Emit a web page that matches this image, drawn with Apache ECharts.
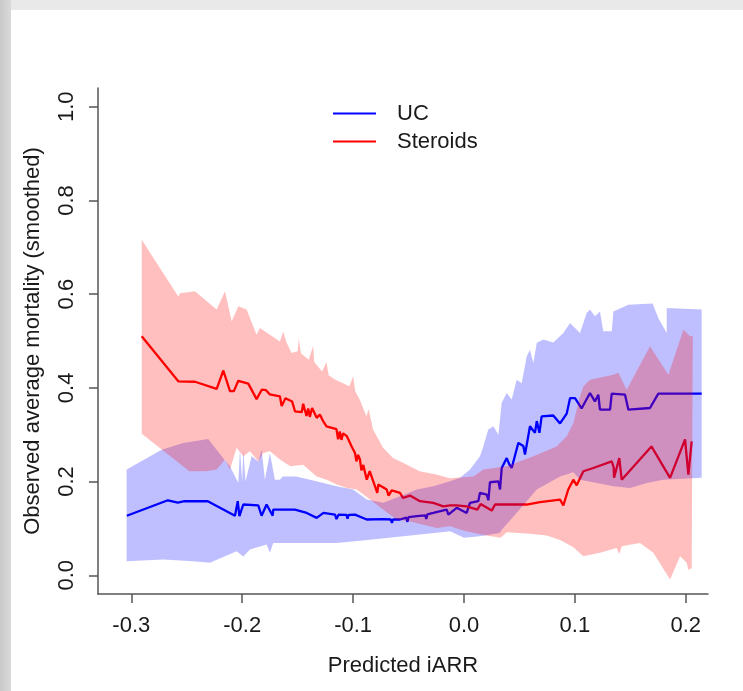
<!DOCTYPE html>
<html>
<head>
<meta charset="utf-8">
<script src="https://cdn.jsdelivr.net/npm/echarts@6/dist/echarts.min.js"></script>
<style>
  html, body { margin: 0; padding: 0; }
  body { width: 743px; height: 691px; position: relative; overflow: hidden; background: #e9e9e9; }
  #edgeLeft { position: absolute; left: 0; top: 0; width: 11px; height: 691px;
    background: linear-gradient(to right, #c9c9c9, #dadada); }
  #panel { position: absolute; left: 11px; top: 10px; width: 732px; height: 681px; background: #fff; }
  #chart { position: absolute; left: 0; top: 0; width: 743px; height: 691px; }
</style>
</head>
<body>
<div id="edgeLeft"></div>
<div id="panel"></div>
<div id="chart"></div>
<script>
// tick labels
const xTicks = [-0.3, -0.2, -0.1, 0.0, 0.1, 0.2];
const yTicks = [0.0, 0.2, 0.4, 0.6, 0.8, 1.0];

// smoothed mortality lines, [predicted iARR, mortality]
const ucLine = [
  [-0.304, 0.127], [-0.267, 0.160], [-0.258, 0.155], [-0.252, 0.158], [-0.231, 0.158],
  [-0.2065, 0.127], [-0.204, 0.158], [-0.2025, 0.126], [-0.199, 0.151], [-0.1855, 0.149],
  [-0.1825, 0.127], [-0.178, 0.151], [-0.1725, 0.127], [-0.172, 0.140], [-0.1524, 0.140],
  [-0.1418, 0.133], [-0.1328, 0.1225], [-0.1268, 0.133], [-0.1163, 0.1295], [-0.115, 0.120],
  [-0.113, 0.1295], [-0.106, 0.129], [-0.105, 0.121], [-0.104, 0.129], [-0.0983, 0.1295],
  [-0.0877, 0.119], [-0.0727, 0.120], [-0.066, 0.119], [-0.065, 0.112], [-0.064, 0.119],
  [-0.0577, 0.119], [-0.052, 0.123], [-0.051, 0.114], [-0.050, 0.124], [-0.0426, 0.126],
  [-0.035, 0.128], [-0.034, 0.120], [-0.033, 0.130], [-0.0277, 0.133], [-0.0156, 0.140],
  [-0.0141, 0.1295], [-0.0066, 0.144], [0.0024, 0.133], [0.0054, 0.1545], [0.0129, 0.158],
  [0.0144, 0.176], [0.0205, 0.172], [0.022, 0.160], [0.0234, 0.1985], [0.031, 0.2006],
  [0.0325, 0.183], [0.034, 0.229], [0.0385, 0.250], [0.041, 0.236], [0.043, 0.229],
  [0.049, 0.2825], [0.0535, 0.276], [0.055, 0.2575], [0.0595, 0.318], [0.064, 0.304],
  [0.0656, 0.329], [0.068, 0.304], [0.070, 0.339], [0.0805, 0.341], [0.0866, 0.324],
  [0.0926, 0.345], [0.0956, 0.378], [0.1001, 0.378], [0.106, 0.356], [0.1136, 0.389],
  [0.118, 0.371], [0.1211, 0.3855], [0.1226, 0.3535], [0.1317, 0.3535], [0.1332, 0.3877],
  [0.1452, 0.3855], [0.1482, 0.3535], [0.1677, 0.357], [0.1752, 0.3877], [0.2143, 0.3877]
];
const steroidLine = [
  [-0.2906, 0.510], [-0.2576, 0.414], [-0.2426, 0.413], [-0.223, 0.398], [-0.217, 0.437],
  [-0.211, 0.393], [-0.2075, 0.393], [-0.2035, 0.415], [-0.1945, 0.409], [-0.187, 0.376],
  [-0.1824, 0.396], [-0.1785, 0.395], [-0.175, 0.386], [-0.166, 0.382], [-0.1644, 0.361],
  [-0.161, 0.378], [-0.155, 0.371], [-0.1524, 0.350], [-0.1463, 0.348], [-0.145, 0.366],
  [-0.142, 0.340], [-0.1405, 0.356], [-0.139, 0.338], [-0.137, 0.357], [-0.1328, 0.336],
  [-0.130, 0.343], [-0.127, 0.329], [-0.124, 0.318], [-0.115, 0.312], [-0.1135, 0.290],
  [-0.112, 0.307], [-0.1105, 0.289], [-0.109, 0.303], [-0.1057, 0.297], [-0.1013, 0.275],
  [-0.0983, 0.261], [-0.097, 0.243], [-0.0955, 0.257], [-0.0938, 0.247], [-0.0925, 0.224],
  [-0.0908, 0.2355], [-0.0877, 0.204], [-0.085, 0.222], [-0.0818, 0.2006], [-0.0782, 0.176],
  [-0.0773, 0.1935], [-0.0697, 0.183], [-0.068, 0.170], [-0.0652, 0.181], [-0.0577, 0.176],
  [-0.055, 0.165], [-0.0487, 0.170], [-0.0397, 0.158], [-0.0277, 0.1545], [-0.0187, 0.147],
  [-0.0126, 0.149], [-0.0066, 0.149], [0.0024, 0.147], [0.012, 0.140], [0.015, 0.152],
  [0.025, 0.138], [0.028, 0.151], [0.0385, 0.151], [0.0565, 0.151], [0.0685, 0.156],
  [0.0866, 0.1615], [0.0896, 0.149], [0.094, 0.183], [0.0986, 0.204], [0.1016, 0.192],
  [0.1076, 0.222], [0.1166, 0.229], [0.1332, 0.243], [0.135, 0.230], [0.1353, 0.208],
  [0.140, 0.250], [0.1422, 0.204], [0.169, 0.275], [0.1858, 0.208], [0.1993, 0.290],
  [0.2023, 0.215], [0.2053, 0.286]
];

// confidence bands, upper and lower edges
const ucUpper = [
  [-0.3042, 0.2255], [-0.2726, 0.268], [-0.2531, 0.2825], [-0.2306, 0.291], [-0.2185, 0.254],
  [-0.211, 0.2326], [-0.2035, 0.197], [-0.202, 0.268], [-0.2, 0.200], [-0.199, 0.268],
  [-0.197, 0.200], [-0.1915, 0.254], [-0.1855, 0.243], [-0.1825, 0.268], [-0.1795, 0.204],
  [-0.175, 0.261], [-0.1705, 0.204], [-0.166, 0.204], [-0.1634, 0.211], [-0.1514, 0.211],
  [-0.1388, 0.204], [-0.1268, 0.197], [-0.1148, 0.190], [-0.100, 0.183], [-0.0877, 0.1615],
  [-0.0727, 0.1545], [-0.0577, 0.1685], [-0.0426, 0.183], [-0.0277, 0.190], [-0.0126, 0.2006],
  [-0.0036, 0.208], [0.0054, 0.2255], [0.0144, 0.254], [0.0174, 0.275], [0.0219, 0.311],
  [0.0265, 0.318], [0.031, 0.300], [0.034, 0.368], [0.0385, 0.389], [0.043, 0.375],
  [0.0475, 0.4175], [0.052, 0.410], [0.0565, 0.467], [0.0595, 0.4815], [0.0625, 0.453],
  [0.0656, 0.496], [0.0716, 0.503], [0.0805, 0.497], [0.0896, 0.517], [0.0956, 0.5385],
  [0.1046, 0.517], [0.1106, 0.560], [0.1136, 0.567], [0.118, 0.5526], [0.1226, 0.563],
  [0.1256, 0.5206], [0.1332, 0.5206], [0.1347, 0.563], [0.1482, 0.5775], [0.170, 0.580],
  [0.1752, 0.549], [0.1828, 0.517], [0.1828, 0.5705], [0.2143, 0.567]
];
const ucLower = [
  [-0.3042, 0.030], [-0.2711, 0.0335], [-0.2441, 0.030], [-0.2291, 0.0265], [-0.205, 0.051],
  [-0.199, 0.040], [-0.193, 0.055], [-0.178, 0.0655], [-0.175, 0.048], [-0.172, 0.069],
  [-0.1524, 0.069], [-0.1148, 0.069], [-0.0847, 0.076], [-0.0547, 0.083], [-0.0246, 0.0905],
  [-0.0126, 0.094], [0.000, 0.080], [0.0144, 0.083], [0.032, 0.090], [0.035, 0.100],
  [0.050, 0.140], [0.0656, 0.183], [0.0866, 0.211], [0.0986, 0.220], [0.1046, 0.204],
  [0.1196, 0.197], [0.1347, 0.190], [0.1497, 0.186], [0.1647, 0.197], [0.1797, 0.204],
  [0.2143, 0.208]
];
const steroidUpper = [
  [-0.2906, 0.716], [-0.2576, 0.595], [-0.256, 0.602], [-0.2426, 0.606], [-0.223, 0.567],
  [-0.2155, 0.606], [-0.2095, 0.542], [-0.2035, 0.574], [-0.196, 0.567], [-0.187, 0.5135],
  [-0.184, 0.528], [-0.166, 0.499], [-0.163, 0.520], [-0.160, 0.497], [-0.1555, 0.4745],
  [-0.150, 0.478], [-0.149, 0.505], [-0.147, 0.474], [-0.140, 0.460], [-0.136, 0.490],
  [-0.135, 0.455], [-0.128, 0.435], [-0.124, 0.455], [-0.122, 0.427], [-0.116, 0.4175],
  [-0.1033, 0.4033], [-0.100, 0.425], [-0.098, 0.392], [-0.094, 0.375], [-0.088, 0.339],
  [-0.086, 0.355], [-0.082, 0.311], [-0.073, 0.272], [-0.064, 0.2505], [-0.055, 0.240],
  [-0.040, 0.222], [-0.025, 0.215], [-0.0126, 0.207], [-0.0066, 0.208], [0.0084, 0.211],
  [0.0174, 0.2255], [0.0385, 0.2326], [0.0625, 0.254], [0.0835, 0.275], [0.0926, 0.2966],
  [0.0986, 0.325], [0.1046, 0.382], [0.1076, 0.403], [0.1136, 0.4175], [0.1347, 0.428],
  [0.1392, 0.432], [0.1467, 0.396], [0.1677, 0.4886], [0.1843, 0.428], [0.1978, 0.524],
  [0.2038, 0.510], [0.2063, 0.510]
];
const steroidLower = [
  [-0.2906, 0.302], [-0.2476, 0.222], [-0.2326, 0.222], [-0.223, 0.2255], [-0.2155, 0.247],
  [-0.211, 0.2255], [-0.205, 0.272], [-0.199, 0.254], [-0.193, 0.2646], [-0.1855, 0.243],
  [-0.181, 0.261], [-0.175, 0.2646], [-0.166, 0.247], [-0.1566, 0.2326], [-0.145, 0.236],
  [-0.1328, 0.211], [-0.1238, 0.204], [-0.1148, 0.1935], [-0.1057, 0.1865], [-0.0967, 0.183],
  [-0.0847, 0.1615], [-0.0727, 0.140], [-0.0607, 0.119], [-0.0487, 0.115], [-0.0367, 0.108],
  [-0.0246, 0.101], [-0.0126, 0.1045], [0.000, 0.095], [0.020, 0.085], [0.033, 0.080],
  [0.0385, 0.092], [0.0565, 0.089], [0.0745, 0.085], [0.0866, 0.075], [0.0986, 0.060],
  [0.1076, 0.0405], [0.1226, 0.048], [0.1376, 0.058], [0.140, 0.045], [0.1422, 0.062],
  [0.1587, 0.069], [0.1707, 0.048], [0.1858, -0.009], [0.1948, 0.0405], [0.2008, 0.0265],
  [0.2023, 0.012], [0.2053, 0.015]
];

const FONT = '"Liberation Sans", Arial, sans-serif';
const chart = echarts.init(document.getElementById('chart'), null, { renderer: 'canvas' });

function bandSeries(name, upper, lower, color) {
  const pts = upper.concat(lower.slice().reverse());
  return {
    name: name,
    type: 'custom',
    coordinateSystem: 'cartesian2d',
    z: 3,
    silent: true,
    data: [[pts[0][0], pts[0][1]]],
    renderItem: function (params, api) {
      return {
        type: 'polygon',
        shape: { points: pts.map(p => api.coord(p)) },
        style: { fill: color }
      };
    }
  };
}

const option = {
  animation: false,
  backgroundColor: 'transparent',
  textStyle: { fontFamily: FONT },
  grid: { left: 98, right: 35, top: 88, bottom: 97, containLabel: false },
  legend: {
    data: ['UC', 'Steroids'],
    orient: 'vertical',
    left: 328,
    top: 96,
    itemWidth: 43,
    itemHeight: 2,
    itemGap: 3,
    icon: 'rect',
    textStyle: { fontFamily: FONT, fontSize: 22, color: '#1a1a1a', padding: [0, 0, 0, 16], lineHeight: 25 }
  },
  xAxis: {
    type: 'value',
    min: -0.33,
    max: 0.22,
    name: 'Predicted iARR',
    nameLocation: 'middle',
    nameGap: 61,
    nameTextStyle: { fontFamily: FONT, fontSize: 22, color: '#1a1a1a' },
    axisLine: { show: true, onZero: false, lineStyle: { color: '#555', width: 1.5 } },
    axisTick: { show: true, inside: false, length: 9, customValues: xTicks, lineStyle: { color: '#555', width: 1.5 } },
    axisLabel: {
      customValues: xTicks,
      margin: 21,
      fontFamily: FONT, fontSize: 22, color: '#1a1a1a',
      formatter: v => v.toFixed(1)
    },
    splitLine: { show: false }
  },
  yAxis: {
    type: 'value',
    min: -0.04,
    max: 1.04,
    name: 'Observed average mortality (smoothed)',
    nameLocation: 'middle',
    nameGap: 54,
    nameTextStyle: { fontFamily: FONT, fontSize: 22, color: '#1a1a1a' },
    axisLine: { show: true, onZero: false, lineStyle: { color: '#555', width: 1.5 } },
    axisTick: { show: true, inside: false, length: 9, customValues: yTicks, lineStyle: { color: '#555', width: 1.5 } },
    axisLabel: {
      customValues: yTicks,
      rotate: 90,
      margin: 20,
      fontFamily: FONT, fontSize: 22, color: '#1a1a1a',
      formatter: v => v.toFixed(1)
    },
    splitLine: { show: false }
  },
  series: [
    {
      name: 'UC', type: 'line', data: ucLine, z: 1, showSymbol: false, symbol: 'none',
      color: '#0000ff', lineStyle: { color: '#0000ff', width: 2.3 }
    },
    {
      name: 'Steroids', type: 'line', data: steroidLine, z: 1, showSymbol: false, symbol: 'none',
      color: '#ff0000', lineStyle: { color: '#ff0000', width: 2.3 }
    },
    bandSeries('UC band', ucUpper, ucLower, 'rgba(0,0,255,0.25)'),
    bandSeries('Steroids band', steroidUpper, steroidLower, 'rgba(255,0,0,0.25)')
  ]
};
chart.setOption(option);
</script>
</body>
</html>
